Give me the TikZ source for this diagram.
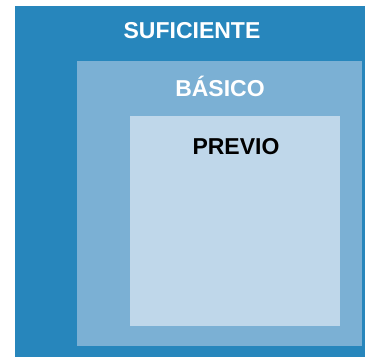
\documentclass[tikz,border=0pt]{standalone}
\usepackage{fontspec}
\setmainfont{Liberation Sans}
\usepackage{tikz}
\usetikzlibrary{positioning}
\definecolor{nivelA}{HTML}{2786BC}
\definecolor{nivelB}{HTML}{7BB0D4}
\definecolor{nivelC}{HTML}{BFD7EA}
\tikzstyle{caja} = [draw=none, anchor=north west, inner sep=0pt]
\tikzstyle{rotulo} = [font=\bfseries\fontsize{23}{28}\selectfont, inner sep=0pt, anchor=base]

\begin{document}
\begin{tikzpicture}[x=1pt, y=-1pt]
        \useasboundingbox (0,0) rectangle (365,357);
        %% Cajas
        \node [caja, fill=nivelA, minimum width=350pt, minimum height=351pt] at (15,6) (S) {};
        \node [caja, fill=nivelB, minimum width=285pt, minimum height=285pt] at (77,61) (B) {};
        \node [caja, fill=nivelC, minimum width=210pt, minimum height=210pt] at (130,116) (P) {};
        %% Textos
        \node [rotulo, white] at (192,38) (TS) {SUFICIENTE};
        \node [rotulo, white] at (220,96) (TB) {BÁSICO};
        \node [rotulo, black] at (236,154) (TP) {PREVIO};
    \end{tikzpicture}
\end{document}
